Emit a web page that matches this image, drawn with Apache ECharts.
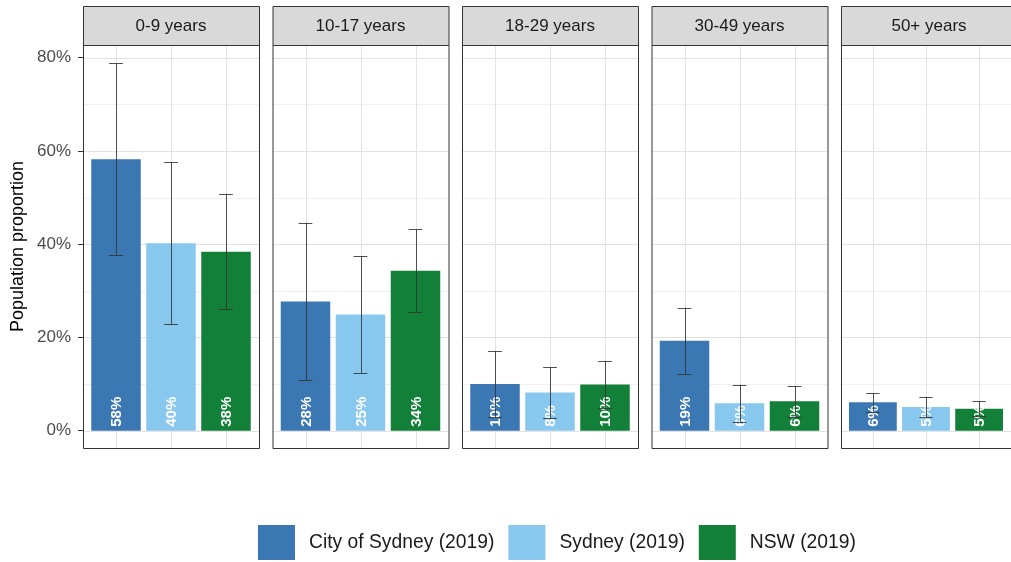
<!DOCTYPE html>
<html>
<head>
<meta charset="utf-8">
<script src="https://cdn.jsdelivr.net/npm/echarts@6/dist/echarts.min.js"></script>
<style>
  html, body { margin: 0; padding: 0; background: #ffffff; }
  #chart { width: 1011px; height: 562px; }
</style>
</head>
<body>
<div id="chart"></div>
<script>
// ---- data ----
const AGE_GROUPS = ['0-9 years', '10-17 years', '18-29 years', '30-49 years', '50+ years'];
const REGIONS = ['City of Sydney (2019)', 'Sydney (2019)', 'NSW (2019)'];

// Population proportion (%) for each age group, one array per region
const CITY_OF_SYDNEY = [58.2, 27.7, 10.0, 19.3, 6.1];
const SYDNEY         = [40.2, 24.9, 8.2, 5.9, 5.1];
const NSW            = [38.4, 34.3, 9.9, 6.3, 4.7];

// Half-length of each error bar (%)
const CITY_OF_SYDNEY_ERR = [20.6, 16.9, 7.1, 7.1, 2.0];
const SYDNEY_ERR         = [17.4, 12.5, 5.5, 4.0, 2.2];
const NSW_ERR            = [12.4, 8.9, 5.1, 3.3, 1.6];

const Y_TICKS = [0, 20, 40, 60, 80];
const Y_MINOR = [10, 30, 50, 70];

// ---- styling / layout ----
const VALUES = [CITY_OF_SYDNEY, SYDNEY, NSW];
const ERRORS = [CITY_OF_SYDNEY_ERR, SYDNEY_ERR, NSW_ERR];
const REGION_COLORS = ['#3b77b3', '#88c8ee', '#13803a'];
const FONT = '"Liberation Sans", Arial, Helvetica, sans-serif';

const PANEL_LEFT = 83, PANEL_STEP = 189.5, PANEL_W = 176;
const PANEL_TOP = 45, PANEL_H = 403, STRIP_TOP = 6;
const BAR_HALF = 0.45, CAP_HALF = 0.125;
const Y_MIN = -3.7, Y_MAX = 82.7;

const chart = echarts.init(document.getElementById('chart'), null, { renderer: 'canvas' });

const grids = [], xAxes = [], yAxes = [], series = [], graphics = [];

function renderGridLines(params, api) {
  const cs = params.coordSys;
  const kind = api.value(0), v = api.value(1), major = api.value(2);
  if (kind === 0) {
    const y = Math.round(api.coord([1, v])[1]) + 0.5;
    return { type: 'line', shape: { x1: cs.x, y1: y, x2: cs.x + cs.width, y2: y },
      style: { stroke: major ? '#e2e2e2' : '#ececec', lineWidth: major ? 1 : 0.8 } };
  }
  const x = Math.round(api.coord([v, 0])[0]) + 0.5;
  return { type: 'line', shape: { x1: x, y1: cs.y, x2: x, y2: cs.y + cs.height },
    style: { stroke: '#e2e2e2', lineWidth: 1 } };
}

function renderBar(params, api) {
  const x = api.value(0), v = api.value(1), e = api.value(2);
  const [xl, yTop] = api.coord([x - BAR_HALF, v]);
  const [xr, yBase] = api.coord([x + BAR_HALF, 0]);
  const cx = Math.round(api.coord([x, 0])[0]) + 0.5;
  const yHi = api.coord([x, v + e])[1];
  const yLo = api.coord([x, v - e])[1];
  const capL = api.coord([x - CAP_HALF, 0])[0];
  const capR = api.coord([x + CAP_HALF, 0])[0];
  const errStyle = { stroke: 'rgba(50,50,50,0.85)', lineWidth: 1 };
  return {
    type: 'group',
    children: [
      { type: 'rect', shape: { x: xl, y: yTop, width: xr - xl, height: yBase - yTop },
        style: { fill: api.visual('color') } },
      { type: 'text', x: cx, y: yBase - 4, rotation: Math.PI / 2,
        style: { text: Math.round(v) + '%', fill: '#ffffff', font: 'bold 15px ' + FONT,
                 align: 'left', verticalAlign: 'middle' } },
      { type: 'line', shape: { x1: cx, y1: yHi, x2: cx, y2: yLo }, style: errStyle },
      { type: 'line', shape: { x1: capL, y1: Math.round(yHi) + 0.5, x2: capR, y2: Math.round(yHi) + 0.5 }, style: errStyle },
      { type: 'line', shape: { x1: capL, y1: Math.round(yLo) + 0.5, x2: capR, y2: Math.round(yLo) + 0.5 }, style: errStyle }
    ]
  };
}

AGE_GROUPS.forEach((group, i) => {
  const left = PANEL_LEFT + i * PANEL_STEP;
  grids.push({ left: left, top: PANEL_TOP, width: PANEL_W, height: PANEL_H, show: false });

  xAxes.push({ type: 'value', gridIndex: i, min: 0.4, max: 3.6, show: false });

  yAxes.push({
    type: 'value', gridIndex: i, min: Y_MIN, max: Y_MAX,
    splitLine: { show: false },
    axisLine: { show: false },
    axisTick: { show: i === 0, length: 5, customValues: Y_TICKS, lineStyle: { color: '#333333', width: 1 } },
    axisLabel: { show: i === 0, customValues: Y_TICKS, formatter: v => v + '%',
                 color: '#4d4d4d', fontSize: 17, fontFamily: FONT, margin: 12 },
    name: i === 0 ? 'Population proportion' : '',
    nameLocation: 'middle', nameGap: 56,
    nameTextStyle: { fontSize: 18, color: '#000000', fontFamily: FONT }
  });

  // panel grid lines
  const gridData = Y_TICKS.map(v => [0, v, 1])
    .concat(Y_MINOR.map(v => [0, v, 0]))
    .concat([1, 2, 3].map(v => [1, v, 1]));
  series.push({ type: 'custom', xAxisIndex: i, yAxisIndex: i, z: 1, silent: true,
                renderItem: renderGridLines, data: gridData });

  // bars with error bars and value labels
  REGIONS.forEach((region, j) => {
    series.push({
      type: 'custom', name: region, xAxisIndex: i, yAxisIndex: i, z: 2 + j,
      itemStyle: { color: REGION_COLORS[j] },
      renderItem: renderBar,
      data: [[j + 1, VALUES[j][i], ERRORS[j][i]]]
    });
  });

  // strip and panel frame
  graphics.push({
    type: 'rect', z: 100,
    shape: { x: left + 0.5, y: STRIP_TOP + 0.5, width: PANEL_W, height: PANEL_TOP - STRIP_TOP },
    style: { fill: '#d9d9d9', stroke: '#333333', lineWidth: 1 }
  });
  graphics.push({
    type: 'text', z: 101, x: left + PANEL_W / 2, y: (STRIP_TOP + PANEL_TOP) / 2 + 1,
    style: { text: group, fill: '#1a1a1a', font: '17px ' + FONT, align: 'center', verticalAlign: 'middle' }
  });
  graphics.push({
    type: 'rect', z: 100,
    shape: { x: left + 0.5, y: PANEL_TOP + 0.5, width: PANEL_W, height: PANEL_H },
    style: { fill: null, stroke: '#333333', lineWidth: 1 }
  });
});

chart.setOption({
  backgroundColor: '#ffffff',
  animation: false,
  grid: grids,
  xAxis: xAxes,
  yAxis: yAxes,
  series: series,
  graphic: graphics,
  legend: {
    data: REGIONS, left: 258, top: 525, padding: 0, icon: 'rect',
    itemWidth: 37, itemHeight: 35, itemGap: 14, selectedMode: false,
    textStyle: { fontSize: 19.3, color: '#1a1a1a', fontFamily: FONT, padding: [0, 0, 0, 9] }
  }
});
</script>
</body>
</html>
